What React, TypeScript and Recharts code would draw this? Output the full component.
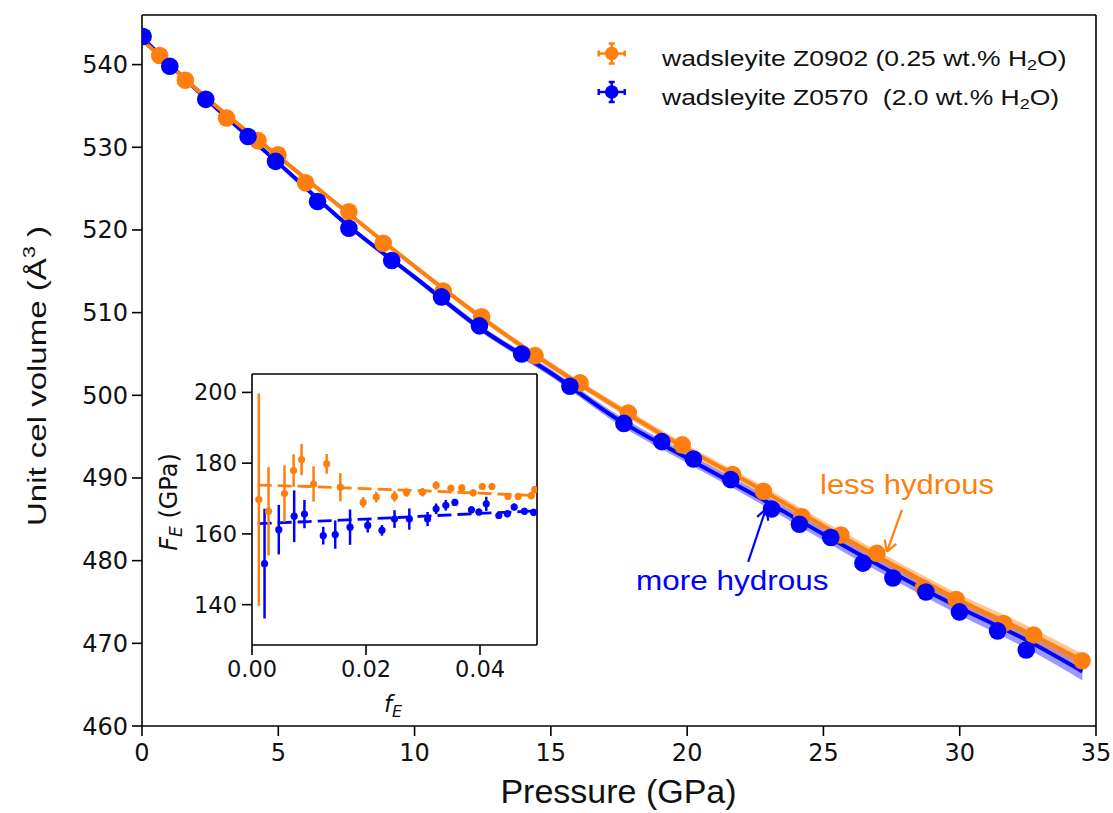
import React from 'react';
import {
  ComposedChart,
  Scatter,
  Line,
  Area,
  XAxis,
  YAxis,
  ReferenceLine,
  ErrorBar,
} from 'recharts';

const ORANGE = '#ff7f0e';
const BLUE = '#0000ff';
const INK = '#111111';

// ---------- main panel ----------
const pressureTicks = [0, 5, 10, 15, 20, 25, 30, 35];
const volumeTicks = [460, 470, 480, 490, 500, 510, 520, 530, 540];

const orangeP = [0.65, 1.59, 3.1, 4.26, 4.99, 6.0, 7.59, 8.85, 11.05, 12.46, 14.42, 16.07, 17.84, 19.82, 21.67, 22.8, 24.21, 25.64, 26.96, 28.67, 29.87, 31.61, 32.71, 34.49];
const orangeV = [541.1, 538.1, 533.55, 530.8, 529.1, 525.7, 522.2, 518.4, 512.6, 509.5, 504.8, 501.5, 497.85, 494.0, 490.4, 488.4, 485.3, 483.1, 480.9, 476.7, 475.3, 472.4, 471.0, 467.9];

const blueP = [0.04, 1.02, 2.34, 3.89, 4.9, 6.44, 7.59, 9.16, 10.99, 12.38, 13.93, 15.7, 17.68, 19.07, 20.23, 21.6, 23.1, 24.12, 25.27, 26.45, 27.55, 28.76, 29.99, 31.39, 32.44];
const blueV = [543.4, 539.8, 535.8, 531.3, 528.3, 523.45, 520.2, 516.3, 511.9, 508.4, 505.0, 501.1, 496.6, 494.4, 492.3, 489.8, 486.25, 484.4, 482.8, 479.7, 477.9, 476.2, 473.8, 471.5, 469.2];

const fitP = [0, 2.5, 5, 7.5, 10, 12.5, 15, 17.5, 20, 22.5, 25, 27.5, 30, 32.5, 34.5];
const orangeFit = [543.0, 535.6, 528.9, 522.2, 515.6, 509.3, 503.6, 498.4, 493.5, 489.0, 484.2, 479.6, 475.2, 471.3, 467.9];
const orangeLow = [542.9, 535.45, 528.7, 521.95, 515.3, 508.95, 503.2, 497.95, 493.0, 488.45, 483.6, 478.95, 474.5, 470.5, 467.05];
const orangeHigh = [543.1, 535.75, 529.1, 522.45, 515.9, 509.65, 504.0, 498.85, 494.0, 489.55, 484.8, 480.25, 475.9, 472.1, 468.75];
const blueFit = [543.3, 535.4, 528.1, 520.7, 514.3, 507.9, 502.7, 497.0, 492.4, 487.9, 483.2, 478.6, 474.3, 470.3, 466.6];
const blueLow = [543.2, 535.25, 527.9, 520.45, 513.95, 507.5, 502.25, 496.45, 491.8, 487.25, 482.45, 477.8, 473.4, 469.3, 465.5];
const blueHigh = [543.4, 535.55, 528.3, 520.95, 514.65, 508.3, 503.15, 497.55, 493.0, 488.55, 483.95, 479.4, 475.2, 471.3, 467.7];

// annotation arrows in data coordinates (P, V)
const lessArrow = [
  [[27.88, 486.14], [27.33, 481.1]],
  [[27.33, 481.1], [27.67, 482.04]],
  [[27.33, 481.1], [27.25, 482.52]],
];
const moreArrow = [
  [[22.24, 479.85], [22.89, 486.26]],
  [[22.89, 486.26], [22.98, 484.83]],
  [[22.89, 486.26], [22.57, 485.3]],
];

// ---------- inset ----------
const insetXTicks = [0, 0.02, 0.04];
const insetYTicks = [140, 160, 180, 200];

const insetOrangeF_E = [0.0012, 0.0029, 0.0057, 0.0073, 0.0087, 0.0108, 0.0131, 0.0155, 0.0195, 0.0218, 0.025, 0.0271, 0.0299, 0.0323, 0.0349, 0.0368, 0.0388, 0.0404, 0.0421, 0.0449, 0.0467, 0.049, 0.0496];
const insetOrangeFE = [169.7, 166.4, 171.4, 177.9, 181.0, 174.1, 179.8, 173.2, 168.9, 170.4, 170.6, 171.7, 171.8, 173.7, 172.9, 173.0, 171.6, 173.4, 173.4, 170.6, 170.6, 170.8, 172.5];
const insetOrangeErr = [30, 12.5, 8, 4.6, 4.4, 5, 2.8, 4, 1.5, 1.5, 1.5, 1.2, 1.2, 1.2, 1.0, 1.0, 1.0, 1.0, 1.0, 1.0, 1.0, 1.0, 1.0];

const insetBlueF_E = [0.0022, 0.0047, 0.0074, 0.0092, 0.0125, 0.0146, 0.0172, 0.0203, 0.0228, 0.025, 0.0276, 0.0308, 0.0323, 0.034, 0.0356, 0.0385, 0.0398, 0.0411, 0.0433, 0.0448, 0.046, 0.0478, 0.0494];
const insetBlueFE = [151.6, 161.2, 165.0, 165.6, 159.5, 159.8, 161.9, 162.4, 161.0, 164.2, 164.2, 164.2, 167.1, 168.1, 168.9, 166.8, 166.2, 168.5, 165.2, 165.7, 167.6, 166.4, 166.1];
const insetBlueErr = [15.5, 7, 7.3, 4, 2.5, 4, 5, 2, 1.5, 2.5, 3, 2, 1.5, 1.5, 1.0, 1.0, 1.0, 2, 1, 1, 1, 1, 1];

const insetFitF_E = [0.001, 0.01, 0.02, 0.03, 0.04, 0.05];
const insetOrangeFitFE = [173.8, 173.4, 172.8, 172.2, 171.5, 170.8];
const insetBlueFitFE = [162.9, 163.5, 164.2, 165.0, 165.8, 166.5];

// ---------- built tables ----------
const orangePts = orangeP.map((p, i) => ({ p, v: orangeV[i] }));
const bluePts = blueP.map((p, i) => ({ p, v: blueV[i] }));
const orangeCurve = fitP.map((p, i) => ({ p, fit: orangeFit[i], band: [orangeLow[i], orangeHigh[i]] }));
const blueCurve = fitP.map((p, i) => ({ p, fit: blueFit[i], band: [blueLow[i], blueHigh[i]] }));

const insetOrange = insetOrangeF_E.map((f, i) => ({ f, F: insetOrangeFE[i], err: insetOrangeErr[i] }));
const insetBlue = insetBlueF_E.map((f, i) => ({ f, F: insetBlueFE[i], err: insetBlueErr[i] }));
const insetOrangeFitData = insetFitF_E.map((f, i) => ({ f, F: insetOrangeFitFE[i] }));
const insetBlueFitData = insetFitF_E.map((f, i) => ({ f, F: insetBlueFitFE[i] }));

const dot = (r: number, color: string) => (props: any) => {
  const { cx, cy } = props;
  if (cx == null || cy == null) return <g />;
  return <circle cx={cx} cy={cy} r={r} fill={color} />;
};

const tickStyle = { fontFamily: 'DejaVu Sans', fontSize: 24, fill: INK };
const insetTickStyle = { fontFamily: 'DejaVu Sans', fontSize: 22.5, fill: INK };

const LegendMarker = ({ x, y, color }: { x: number; y: number; color: string }) => (
  <g stroke={color} strokeWidth={2.5}>
    <line x1={x - 13} y1={y} x2={x + 13} y2={y} />
    <line x1={x} y1={y - 10} x2={x} y2={y + 10} />
    <line x1={x - 3} y1={y - 10} x2={x + 3} y2={y - 10} />
    <line x1={x - 3} y1={y + 10} x2={x + 3} y2={y + 10} />
    <line x1={x - 13} y1={y - 3} x2={x - 13} y2={y + 3} />
    <line x1={x + 13} y1={y - 3} x2={x + 13} y2={y + 3} />
    <circle cx={x} cy={y} r={6.8} fill={color} stroke="none" />
  </g>
);

export default function App() {
  return (
    <div style={{ position: 'absolute', left: 0, top: 0, width: 1113, height: 813, background: '#fff', overflow: 'hidden' }}>
      <div style={{ position: 'absolute', left: 0, top: 0 }}>
        <ComposedChart width={1113} height={813} margin={{ top: 15, right: 17, left: 0, bottom: 0 }}>
          <XAxis
            type="number"
            dataKey="p"
            domain={[0, 35]}
            ticks={pressureTicks}
            interval={0}
            allowDataOverflow
            height={87}
            tickSize={10}
            tickMargin={8}
            stroke="#000"
            axisLine={{ stroke: '#000', strokeWidth: 1.6 }}
            tickLine={{ stroke: '#000', strokeWidth: 1.6 }}
            tick={tickStyle}
          />
          <YAxis
            type="number"
            domain={[460, 546]}
            ticks={volumeTicks}
            interval={0}
            allowDataOverflow
            width={142}
            tickSize={10}
            tickMargin={4}
            stroke="#000"
            axisLine={{ stroke: '#000', strokeWidth: 1.6 }}
            tickLine={{ stroke: '#000', strokeWidth: 1.6 }}
            tick={tickStyle}
          />
          <ReferenceLine y={546} stroke="#000" strokeWidth={1.6} />
          <ReferenceLine x={35} stroke="#000" strokeWidth={1.6} />

          <Area data={blueCurve} dataKey="band" type="monotone" stroke="none" fill={BLUE} fillOpacity={0.4} isAnimationActive={false} />
          <Line data={blueCurve} dataKey="fit" type="monotone" stroke={BLUE} strokeWidth={4} dot={false} isAnimationActive={false} />
          <Area data={orangeCurve} dataKey="band" type="monotone" stroke="none" fill={ORANGE} fillOpacity={0.45} isAnimationActive={false} />
          <Line data={orangeCurve} dataKey="fit" type="monotone" stroke={ORANGE} strokeWidth={4} dot={false} isAnimationActive={false} />

          <Scatter data={orangePts} dataKey="v" fill={ORANGE} shape={dot(8.8, ORANGE)} isAnimationActive={false} />
          <Scatter data={bluePts} dataKey="v" fill={BLUE} shape={dot(8.8, BLUE)} isAnimationActive={false} />

          {lessArrow.map((seg, i) => (
            <ReferenceLine
              key={'la' + i}
              segment={[{ x: seg[0][0], y: seg[0][1] }, { x: seg[1][0], y: seg[1][1] }]}
              stroke={ORANGE}
              strokeWidth={2.2}
            />
          ))}
          {moreArrow.map((seg, i) => (
            <ReferenceLine
              key={'ma' + i}
              segment={[{ x: seg[0][0], y: seg[0][1] }, { x: seg[1][0], y: seg[1][1] }]}
              stroke={BLUE}
              strokeWidth={2.2}
            />
          ))}
        </ComposedChart>
      </div>

      <div style={{ position: 'absolute', left: 160, top: 360 }}>
        <ComposedChart width={400} height={370} margin={{ top: 14, right: 23, left: 0, bottom: 0 }}>
          <XAxis
            type="number"
            dataKey="f"
            domain={[0, 0.05]}
            ticks={insetXTicks}
            interval={0}
            allowDataOverflow
            height={85}
            tickSize={10}
            tickMargin={6}
            tickFormatter={(v: number) => v.toFixed(2)}
            axisLine={{ stroke: '#000', strokeWidth: 1.6 }}
            tickLine={{ stroke: '#000', strokeWidth: 1.6 }}
            tick={insetTickStyle}
          />
          <YAxis
            type="number"
            domain={[128.6, 205.2]}
            ticks={insetYTicks}
            interval={0}
            allowDataOverflow
            width={92}
            tickSize={10}
            tickMargin={5}
            axisLine={{ stroke: '#000', strokeWidth: 1.6 }}
            tickLine={{ stroke: '#000', strokeWidth: 1.6 }}
            tick={insetTickStyle}
          />
          <ReferenceLine y={205.2} stroke="#000" strokeWidth={1.6} />
          <ReferenceLine x={0.05} stroke="#000" strokeWidth={1.6} />

          <Line data={insetOrangeFitData} dataKey="F" type="linear" stroke={ORANGE} strokeWidth={2.8} strokeDasharray="14 6" dot={false} isAnimationActive={false} />
          <Line data={insetBlueFitData} dataKey="F" type="linear" stroke={BLUE} strokeWidth={2.8} strokeDasharray="14 6" dot={false} isAnimationActive={false} />

          <Scatter data={insetOrange} dataKey="F" fill={ORANGE} shape={dot(3.6, ORANGE)} isAnimationActive={false}>
            <ErrorBar dataKey="err" direction="y" width={0} stroke={ORANGE} strokeWidth={2.5} />
          </Scatter>
          <Scatter data={insetBlue} dataKey="F" fill={BLUE} shape={dot(3.6, BLUE)} isAnimationActive={false}>
            <ErrorBar dataKey="err" direction="y" width={0} stroke={BLUE} strokeWidth={2.5} />
          </Scatter>
        </ComposedChart>
      </div>

      <svg
        width={1113}
        height={813}
        style={{ position: 'absolute', left: 0, top: 0, pointerEvents: 'none' }}
      >
        {/* legend */}
        <LegendMarker x={611.7} y={53.5} color={ORANGE} />
        <LegendMarker x={611.7} y={92} color={BLUE} />
        <g fontFamily="Liberation Sans, Arial, sans-serif" fill={INK}>
          <text transform="translate(662,66) scale(1,0.8)" fontSize={26.5}>
            wadsleyite Z0902 (0.25 wt.% H<tspan fontSize={18} dy={5}>2</tspan><tspan dy={-5}>O)</tspan>
          </text>
          <text transform="translate(662,104.5) scale(1,0.8)" fontSize={26.5}>
            {'wadsleyite Z0570\u00A0 (2.0 wt.% H'}<tspan fontSize={18} dy={5}>2</tspan><tspan dy={-5}>O)</tspan>
          </text>
        </g>

        {/* annotations */}
        <text transform="translate(820,494) scale(1,0.9)" fontSize={31} fontFamily="Liberation Sans, Arial, sans-serif" fill={ORANGE}>
          less hydrous
        </text>
        <text transform="translate(636,590) scale(1,0.9)" fontSize={31.5} fontFamily="Liberation Sans, Arial, sans-serif" fill={BLUE}>
          more hydrous
        </text>

        {/* axis labels */}
        <text x={618.5} y={803} textAnchor="middle" fontSize={34} fontFamily="Liberation Sans, Arial, sans-serif" fill={INK}>
          Pressure (GPa)
        </text>
        <text transform="translate(46,526) rotate(-90) scale(1,0.76)" fontSize={33} fontFamily="Liberation Sans, Arial, sans-serif" fill={INK}>
          {'Unit cel volume (Å'}<tspan fontSize={22} dy={-14}>3</tspan><tspan dy={14}>{'\u00A0)'}</tspan>
        </text>

        {/* inset labels */}
        <text transform="translate(177,502) rotate(-90)" textAnchor="middle" fontSize={24} fontFamily="DejaVu Sans" fill={INK}>
          <tspan fontStyle="italic">F</tspan>
          <tspan fontStyle="italic" fontSize={17} dy={5}>E</tspan>
          <tspan dy={-5}>{'\u00A0(GPa)'}</tspan>
        </text>
        <text x={393} y={712} textAnchor="middle" fontSize={23} fontFamily="DejaVu Sans" fill={INK}>
          <tspan fontStyle="italic">f</tspan>
          <tspan fontStyle="italic" fontSize={16} dy={5}>E</tspan>
        </text>
      </svg>
    </div>
  );
}
